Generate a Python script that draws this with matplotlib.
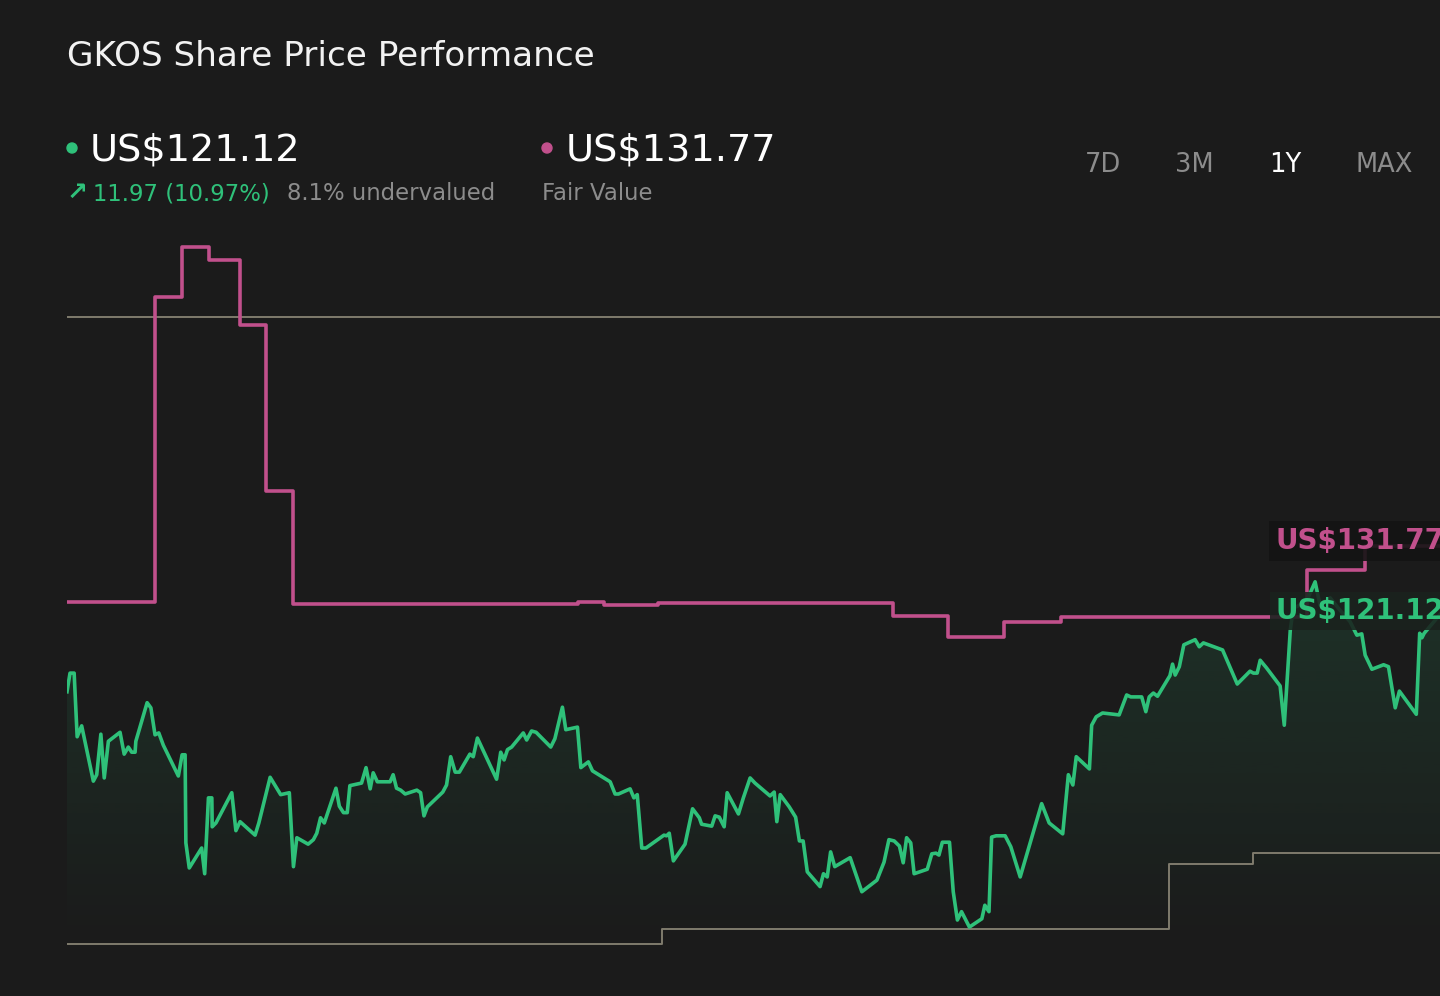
import numpy as np
import matplotlib.pyplot as plt
from matplotlib.patches import Ellipse, Polygon

plt.rcParams['font.family'] = ['DejaVu Sans']

# share price over the last year (day of year, US$)
days = [0, 0.8, 1.9, 2.7, 3.9, 7.0, 7.9, 9.0, 9.9, 11.0, 14.1, 15.2, 16.3, 17.2, 18.1, 18.3,
        21.3, 22.3, 23.4, 24.4, 25.6, 29.6, 30.6, 31.4, 31.6, 32.5, 35.8, 36.6, 37.6, 38.5,
        38.6, 39.6, 43.8, 44.9, 46.0, 50.0, 51.0, 54.0, 56.8, 59.1, 60.2, 61.1, 64.1, 65.5,
        66.4, 67.4, 68.4, 71.5, 72.4, 73.5, 74.5, 75.2, 78.3, 79.5, 80.6, 81.4, 82.5, 85.9,
        86.7, 87.6, 88.7, 89.9, 93.0, 94.0, 94.9, 95.8, 99.9, 100.9, 102.0, 103.2, 104.3,
        107.1, 108.0, 109.1, 114.2, 115.3, 116.2, 117.1, 118.2, 121.3, 122.2, 123.5, 124.7,
        128.6, 129.7, 131.7, 132.6, 135.7, 136.6, 138.6, 139.7, 144.4, 145.7, 146.6, 149.7,
        150.7, 151.6, 152.8, 153.9, 158.7, 159.4, 160.1, 161.2, 164.3, 166.3, 168.1, 168.7,
        171.4, 172.3, 173.4, 174.7, 175.5, 178.5, 179.8, 181.6, 182.9, 186.9, 188.0, 188.7,
        189.6, 192.0, 193.7, 194.7, 195.7, 196.8, 200.2, 201.1, 202.1, 203.0, 204.1, 208.2,
        211.3, 215.3, 217.2, 218.5, 219.9, 221.3, 222.3, 223.2, 224.3, 225.2, 228.7, 229.9,
        231.0, 231.8, 232.7, 234.6, 235.6, 236.7, 237.8, 239.9, 243.2, 244.0, 245.1, 245.8,
        247.0, 249.4, 250.9, 253.4, 259.1, 261.1, 264.7, 266.2, 267.4, 268.3, 271.8, 272.4,
        273.6, 275.3, 279.7, 281.7, 282.8, 285.7, 286.8, 287.7, 288.8, 289.9, 293.2, 293.9,
        294.6, 295.7, 296.9, 299.9, 301.0, 302.1, 307.2, 311.1, 314.5, 315.4, 316.4, 317.2,
        318.9, 322.5, 323.6, 325.2, 326.0, 327.8, 329.7, 331.8, 333.1, 335.8, 338.4, 341.1,
        342.9, 344.2, 345.1, 346.9, 350.0, 351.3, 353.1, 354.2, 358.7, 359.6, 360.2, 360.8, 365.0]
price = [109.1, 112.0, 112.0, 102.1, 103.8, 95.2, 96.2, 102.5, 95.7, 101.4, 102.8, 99.4,
         100.5, 99.7, 99.7, 101.4, 107.4, 106.6, 102.4, 102.7, 100.8, 96.0, 99.3, 99.3,
         85.6, 81.7, 84.8, 80.8, 92.6, 92.6, 88.1, 88.7, 93.4, 87.5, 88.9, 86.8, 88.7, 95.8,
         93.1, 93.4, 81.9, 86.4, 85.4, 86.1, 87.1, 89.5, 88.7, 94.1, 91.3, 90.3, 90.3, 94.5,
         94.9, 97.3, 94.0, 96.5, 95.1, 95.1, 96.2, 94.1, 93.8, 93.2, 93.8, 93.4, 89.8, 91.2,
         93.5, 94.6, 99.0, 96.6, 96.6, 99.4, 99.0, 101.9, 95.5, 99.7, 98.5, 100.1, 100.5,
         102.7, 101.6, 103.0, 102.8, 100.5, 101.8, 106.7, 103.2, 103.6, 97.3, 98.2, 96.8,
         95.1, 93.2, 93.2, 94.0, 92.6, 93.1, 84.8, 84.8, 86.8, 86.7, 87.1, 82.8, 85.4, 90.9,
         89.5, 88.5, 88.2, 89.8, 89.6, 88.1, 93.4, 90.1, 92.6, 95.7, 94.9, 92.9, 93.5, 88.9,
         93.1, 91.2, 89.6, 85.9, 85.9, 81.1, 78.8, 80.8, 80.3, 84.2, 81.9, 83.3, 78.0, 79.8,
         82.6, 86.1, 85.9, 85.1, 82.5, 86.4, 85.6, 80.8, 81.5, 83.9, 84.0, 83.7, 85.7, 85.7,
         78.0, 73.6, 74.9, 72.5, 73.8, 75.9, 74.9, 86.5, 86.7, 86.7, 85.0, 80.3, 91.7, 88.7,
         87.0, 96.2, 94.6, 99.0, 97.1, 103.9, 105.2, 105.8, 105.5, 108.6, 108.3, 108.3, 106.0,
         108.3, 108.9, 108.4, 111.6, 113.4, 111.7, 113.0, 116.4, 117.2, 116.1, 116.7, 115.6,
         110.3, 112.3, 112.0, 112.0, 114.0, 112.8, 110.0, 103.9, 118.7, 122.1, 122.6, 123.4,
         126.2, 122.6, 123.7, 121.8, 120.0, 117.9, 118.1, 114.8, 112.6, 113.3, 113.0, 106.6,
         109.2, 105.6, 118.2, 117.5, 118.2, 121.12]

# fair value estimate steps
fv_days = [0, 23.4, 30.6, 37.7, 46.0, 52.9, 60.1, 135.8, 142.8, 157.1, 219.6, 234.2,
           249.1, 264.3, 329.7, 345.1, 365]
fv_vals = [123.06, 170.49, 178.26, 176.24, 166.13, 140.32, 122.75, 123.06, 122.59, 122.90,
           120.88, 117.62, 119.95, 120.73, 128.04, 131.77, 131.77]

# analyst target range
high_days = [0, 365]
high_vals = [167.4, 167.4]
low_days = [0, 158.2, 293.0, 315.3, 365]
low_vals = [69.9, 72.2, 82.3, 84.0, 84.0]

bg = '#1b1b1b'
green = '#2fc17a'
pink = '#c1508c'
grey_line = '#7f7b6d'
grey_txt = '#8c8c8c'

W, H = 1440, 996
fig = plt.figure(figsize=(W / 100, H / 100), dpi=100, facecolor=bg)
ax = fig.add_axes([67 / W, 1 - 950 / H, 1 - 67 / W, 720 / H])
ax.set_facecolor(bg)
ymin, ymax = 68.94, 180.91
for s in ax.spines.values():
    s.set_visible(False)
ax.set_xticks([])
ax.set_yticks([])

# gradient under the price line
fill_bottom = 69.6
verts = [(days[0], fill_bottom)] + list(zip(days, price)) + [(days[-1], fill_bottom)]
poly = Polygon(verts, closed=True, fc='none', ec='none')
ax.add_patch(poly)
grad = np.zeros((256, 1, 4))
grad[:, 0, 0:3] = [47 / 255, 193 / 255, 122 / 255]
grad[:, 0, 3] = np.linspace(0.0, 0.14, 256)
im = ax.imshow(grad, extent=[0, 365, fill_bottom, max(price)], origin='lower',
               aspect='auto', zorder=1, interpolation='bilinear')
im.set_clip_path(poly)

ax.plot(high_days, high_vals, color=grey_line, lw=1.4, zorder=2)
ax.step(low_days, low_vals, where='post', color=grey_line, lw=1.4, zorder=2)
ax.step(fv_days, fv_vals, where='post', color=pink, lw=2.6, zorder=3)
ax.plot(days, price, color=green, lw=2.6, zorder=4)
ax.set_xlim(0, 365)
ax.set_ylim(ymin, ymax)


def fx(x):
    return x / W


def fy(y):
    return 1 - y / H


# header
fig.text(fx(67), fy(66), 'GKOS Share Price Performance', color='#f2f2f2',
         fontsize=24.7, va='baseline')
fig.add_artist(Ellipse((fx(72), fy(148)), 10 / W, 10 / H, color=green))
fig.text(fx(90), fy(161), 'US$121.12', color='white', fontsize=27.5, va='baseline')
fig.text(fx(67), fy(200), '\u2197', color=green, fontsize=18, va='baseline',
         fontweight='bold')
fig.text(fx(93), fy(200), '11.97 (10.97%)', color=green, fontsize=16.4, va='baseline')
fig.text(fx(287), fy(200), '8.1% undervalued', color=grey_txt, fontsize=16.4, va='baseline')
fig.add_artist(Ellipse((fx(547), fy(148)), 10 / W, 10 / H, color=pink))
fig.text(fx(566), fy(161), 'US$131.77', color='white', fontsize=27.5, va='baseline')
fig.text(fx(542), fy(200), 'Fair Value', color=grey_txt, fontsize=16.4, va='baseline')

buttons = ['7D', '3M', '1Y', 'MAX']
button_x = [1103, 1194, 1285, 1384]
for b, bx in zip(buttons, button_x):
    fig.text(fx(bx), fy(172), b, color='white' if b == '1Y' else grey_txt,
             fontsize=18.5, ha='center', va='baseline')

# end labels (cut by the right edge, as in the source)
fig.text(fx(1275), fy(541), 'US$131.77', color=pink, fontsize=20, fontweight='bold',
         va='center', bbox=dict(boxstyle='square,pad=0.22', fc='#141414', ec='none', alpha=0.9))
fig.text(fx(1275), fy(611), 'US$121.12', color=green, fontsize=20, fontweight='bold',
         va='center', bbox=dict(boxstyle='square,pad=0.18', fc='#1a221e', ec='none', alpha=0.88))

fig.savefig('out.png', dpi=100, facecolor=bg)
